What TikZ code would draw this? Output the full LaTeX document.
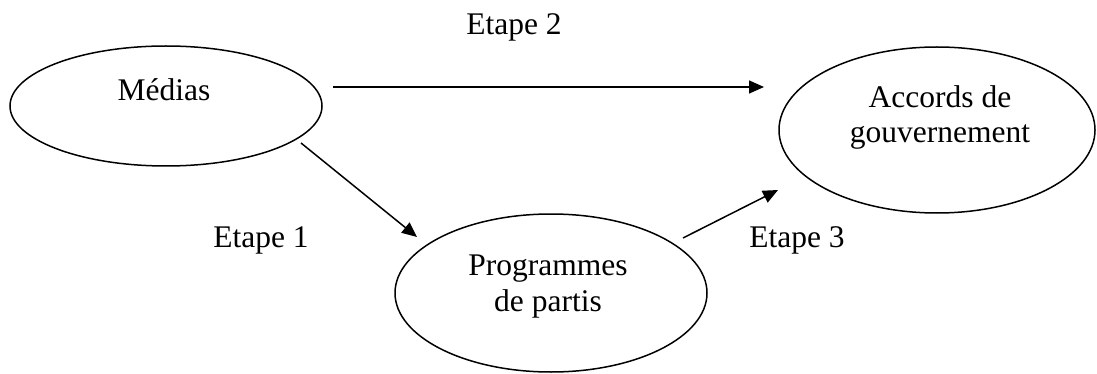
\documentclass[tikz,border=0pt]{standalone}
\usepackage{fontspec}
\setmainfont{Liberation Serif}
\usetikzlibrary{shapes.geometric,arrows.meta}
\begin{document}
\begin{tikzpicture}[x=1pt,y=-1pt,
  oval/.style={draw,ellipse,line width=1.5pt,inner sep=0pt},
  lbl/.style={anchor=base,inner sep=0pt,font=\fontsize{31.5}{36}\selectfont},
  conn/.style={line width=1.5pt,-{Triangle[length=15pt,width=13pt]}}]
\useasboundingbox (0,0) rectangle (1097,374);
% ellipses
\node[oval,minimum width=312pt,minimum height=120pt] (med) at (166,106) {};
\node[oval,minimum width=316pt,minimum height=166pt] (acc) at (937,130) {};
\node[oval,minimum width=312pt,minimum height=158pt] (prog) at (551,293) {};
% texts
\node[lbl] (tmed) at (164,101) {Médias};
\node[lbl] (tacc1) at (940,108) {Accords de};
\node[lbl] (tacc2) at (940,143) {gouvernement};
\node[lbl] (tprog1) at (548,275) {Programmes};
\node[lbl] (tprog2) at (548,311) {de partis};
\node[lbl] (e2) at (514,35) {Etape 2};
\node[lbl] (e1) at (261,247) {Etape 1};
\node[lbl] (e3) at (797,247) {Etape 3};
% connector ends
\coordinate (a1s) at (301,143);
\coordinate (a1e) at (417,237);
\coordinate (a2s) at (333,87);
\coordinate (a2e) at (764,87);
\coordinate (a3s) at (683,238);
\coordinate (a3e) at (778,190);
\draw[conn] (a2s) -- (a2e);
\draw[conn] (a1s) -- (a1e);
\draw[conn] (a3s) -- (a3e);
\end{tikzpicture}
\end{document}
